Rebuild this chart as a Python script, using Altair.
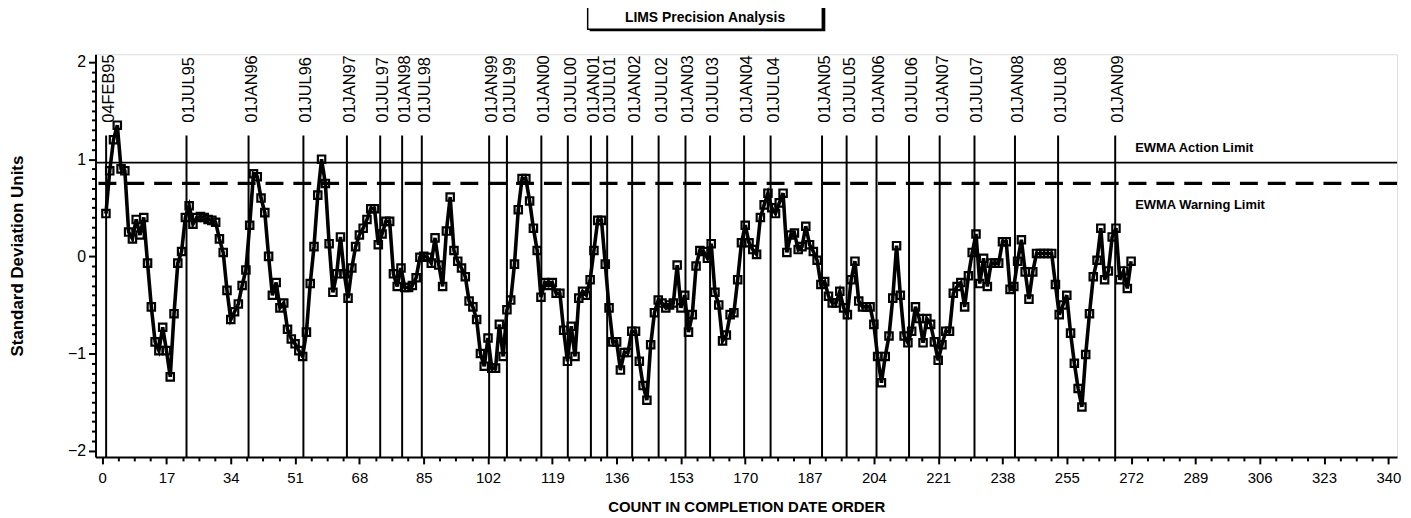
import altair as alt
import pandas as pd

# ---- data ----
ewma_values = [
    0.44, 0.88, 1.2, 1.35, 0.9, 0.88, 0.25, 0.18, 0.38, 0.22,
    0.4, -0.07, -0.52, -0.88, -0.97, -0.73, -0.97, -1.24, -0.59, -0.07,
    0.05, 0.4, 0.52, 0.33, 0.4, 0.41, 0.4, 0.38, 0.37, 0.35,
    0.18, 0.04, -0.35, -0.65, -0.57, -0.49, -0.3, -0.14, 0.32, 0.85,
    0.82, 0.6, 0.45, 0.0, -0.4, -0.27, -0.53, -0.48, -0.75, -0.85,
    -0.9, -0.97, -1.03, -0.78, -0.28, 0.1, 0.63, 1.0, 0.75, 0.13,
    -0.37, -0.18, 0.2, -0.18, -0.43, -0.12, 0.1, 0.22, 0.29, 0.38,
    0.49, 0.49, 0.12, 0.23, 0.36, 0.36, -0.18, -0.31, -0.12, -0.32,
    -0.32, -0.3, -0.22, -0.01, 0.0, -0.01, -0.07, 0.19, -0.09, -0.31,
    0.26, 0.61, 0.06, -0.05, -0.12, -0.21, -0.46, -0.52, -0.65, -1.0,
    -1.13, -0.84, -1.15, -1.15, -0.7, -1.03, -0.55, -0.45, -0.08, 0.48,
    0.8, 0.8, 0.57, 0.29, 0.06, -0.42, -0.27, -0.3, -0.27, -0.38,
    -0.38, -0.76, -1.08, -0.72, -1.03, -0.43, -0.36, -0.4, -0.24, 0.06,
    0.37, 0.37, -0.08, -0.53, -0.88, -0.88, -1.17, -0.99, -0.99, -0.77,
    -0.77, -1.08, -1.33, -1.48, -0.91, -0.58, -0.45, -0.48, -0.53, -0.5,
    -0.48, -0.09, -0.53, -0.4, -0.78, -0.6, -0.1, 0.06, 0.05, -0.02,
    0.13, -0.37, -0.5, -0.87, -0.81, -0.6, -0.58, -0.24, 0.14, 0.32,
    0.14, 0.07, 0.02, 0.4, 0.53, 0.65, 0.5, 0.44, 0.55, 0.65,
    0.04, 0.22, 0.24, 0.07, 0.1, 0.31, 0.12, 0.05, -0.04, -0.29,
    -0.26, -0.41, -0.48, -0.48, -0.36, -0.53, -0.6, -0.24, -0.05, -0.46,
    -0.52, -0.52, -0.52, -0.7, -1.03, -1.3, -1.03, -0.82, -0.43, 0.11,
    -0.4, -0.82, -0.89, -0.77, -0.52, -0.64, -0.89, -0.64, -0.7, -0.88,
    -1.07, -0.91, -0.77, -0.77, -0.38, -0.31, -0.27, -0.52, -0.2, 0.04,
    0.23, -0.28, -0.02, -0.31, -0.07, -0.07, -0.07, 0.15, 0.15, -0.34,
    -0.31, -0.05, 0.17, -0.16, -0.44, -0.16, 0.03, 0.03, 0.03, 0.03,
    0.03, -0.29, -0.6, -0.5, -0.4, -0.79, -1.1, -1.36, -1.55, -1.01,
    -0.59, -0.21, -0.04, 0.29, -0.24, -0.15, 0.2, 0.29, -0.24, -0.15,
    -0.33, -0.05,
]
counts = list(range(1, len(ewma_values) + 1))

date_labels = [
    "04FEB95", "01JUL95", "01JAN96", "01JUL96", "01JAN97", "01JUL97",
    "01JAN98", "01JUL98", "01JAN99", "01JUL99", "01JAN00", "01JUL00",
    "01JAN01", "01JUL01", "01JAN02", "01JUL02", "01JAN03", "01JUL03",
    "01JAN04", "01JUL04", "01JAN05", "01JUL05", "01JAN06", "01JUL06",
    "01JAN07", "01JUL07", "01JAN08", "01JUL08", "01JAN09",
]
date_counts = [
    1.05, 22.3, 38.7, 53.2, 64.7, 73.5, 79.3, 84.5, 102.3, 107.0,
    116.1, 123.1, 129.2, 133.5, 140.1, 147.1, 154.2, 160.7, 169.7, 176.7,
    190.3, 196.8, 204.7, 213.3, 221.4, 230.6, 241.3, 252.7, 267.8,
]

action_limit = 0.965
warning_limit = 0.75
limit_names = ["EWMA Action Limit", "EWMA Warning Limit"]

x_major = list(range(0, 341, 17))
x_minor = [m + k * 4.25 for m in range(0, 340, 17) for k in (1, 2, 3)]
y_major = [-2, -1, 0, 1, 2]
y_minor = [round(i / 10, 1) for i in range(-20, 21) if i % 10 != 0]

# ---- styling ----
SANS = "'Liberation Sans', Arial, sans-serif"

W, H = 1309, 405
x_scale = alt.Scale(domain=[-1.76, 342.3], nice=False, zero=False)
y_scale = alt.Scale(domain=[-2.064, 2.08], nice=False, zero=False)

df = pd.DataFrame({"count": counts, "value": ewma_values})
dates_df = pd.DataFrame({"label": date_labels, "pos": date_counts})
one = pd.DataFrame({"t": ["LIMS Precision Analysis"]})

major_x_axis = alt.Axis(
    values=x_major, orient="bottom", tickSize=7, tickWidth=2, tickColor="black",
    domainWidth=2, domainColor="black", grid=False, labelFlush=False,
    labelOverlap=False, labelFont=SANS, labelFontSize=15, labelColor="black",
    labelPadding=7, title="COUNT IN COMPLETION DATE ORDER", titleFont=SANS,
    titleFontSize=15, titleFontWeight="bold", titleColor="black",
    titleX=W / 2, titleY=50, titleAlign="center", titleBaseline="middle",
)
major_y_axis = alt.Axis(
    values=y_major, orient="left", tickSize=7, tickWidth=2, tickColor="black",
    domainWidth=2, domainColor="black", grid=False, labelFont=SANS,
    labelFontSize=16, labelColor="black", labelPadding=3,
    title="Standard Deviation Units", titleFont=SANS, titleFontSize=17,
    titleFontWeight="bold", titleColor="black", titleAngle=270,
    titleX=-78, titleY=H / 2, titleAlign="center", titleBaseline="middle",
)
minor_x_axis = alt.Axis(
    values=x_minor, orient="bottom", tickSize=4, tickWidth=2, tickColor="black",
    labels=False, domain=False, grid=False, title=None,
)
minor_y_axis = alt.Axis(
    values=y_minor, orient="left", tickSize=4, tickWidth=2, tickColor="black",
    labels=False, domain=False, grid=False, title=None,
)

line = alt.Chart(df).mark_line(color="black", strokeWidth=3.6).encode(
    x=alt.X("count:Q", scale=x_scale, axis=major_x_axis),
    y=alt.Y("value:Q", scale=y_scale, axis=major_y_axis),
)
points = alt.Chart(df).mark_point(
    shape="square", filled=False, color="black", stroke="black",
    strokeWidth=2.2, size=55, opacity=1,
).encode(
    x=alt.X("count:Q", scale=x_scale, axis=minor_x_axis),
    y=alt.Y("value:Q", scale=y_scale, axis=minor_y_axis),
)

date_rules = alt.Chart(dates_df).mark_rule(color="black", strokeWidth=2).encode(
    x=alt.X("pos:Q", scale=x_scale, axis=None),
    y=alt.YDatum(1.243, axis=None),
    y2=alt.datum(-2.064),
)
date_text = alt.Chart(dates_df).mark_text(
    angle=270, align="left", baseline="middle", dy=3, font=SANS,
    fontSize=16.5, color="black",
).encode(
    x=alt.X("pos:Q", scale=x_scale, axis=None),
    y=alt.YDatum(1.375, axis=None),
    text="label:N",
)

action_rule = alt.Chart(one).mark_rule(color="black", strokeWidth=1.7).encode(
    y=alt.YDatum(action_limit, axis=None)
)
warning_rule = alt.Chart(one).mark_rule(
    color="black", strokeWidth=3.3, strokeDash=[18, 10]
).encode(y=alt.YDatum(warning_limit, axis=None))

action_text = alt.Chart(one).mark_text(
    align="left", baseline="middle", font=SANS, fontSize=13,
    fontWeight="bold", color="black",
).encode(
    x=alt.XDatum(273.1, axis=None), y=alt.YDatum(1.11, axis=None),
    text=alt.value(limit_names[0]),
)
warning_text = alt.Chart(one).mark_text(
    align="left", baseline="middle", font=SANS, fontSize=13,
    fontWeight="bold", color="black",
).encode(
    x=alt.XDatum(273.1, axis=None), y=alt.YDatum(0.527, axis=None),
    text=alt.value(limit_names[1]),
)

# title box (decoration above the plot)
box_shadow = alt.Chart(one).mark_rect(fill="black").encode(
    x=alt.value(497), x2=alt.value(734), y=alt.value(-60), y2=alt.value(-23)
)
box = alt.Chart(one).mark_rect(fill="white", stroke="black", strokeWidth=1.5).encode(
    x=alt.value(495), x2=alt.value(731), y=alt.value(-60), y2=alt.value(-25)
)
title_text = alt.Chart(one).mark_text(
    align="center", baseline="alphabetic", font=SANS, fontSize=14,
    fontWeight="bold", color="black",
).encode(x=alt.value(613), y=alt.value(-32), text="t:N")

chart = alt.layer(
    date_rules, date_text, action_rule, warning_rule, action_text, warning_text,
    line, points, box_shadow, box, title_text,
).resolve_axis(x="independent", y="independent").properties(
    width=W, height=H,
    padding={"left": 88, "top": 45, "right": 6, "bottom": 70},
    autosize=alt.AutoSizeParams(type="none"),
).configure_view(stroke=None).configure(background="white")

chart.save("out.html", embed_options={"renderer": "svg", "actions": False})
